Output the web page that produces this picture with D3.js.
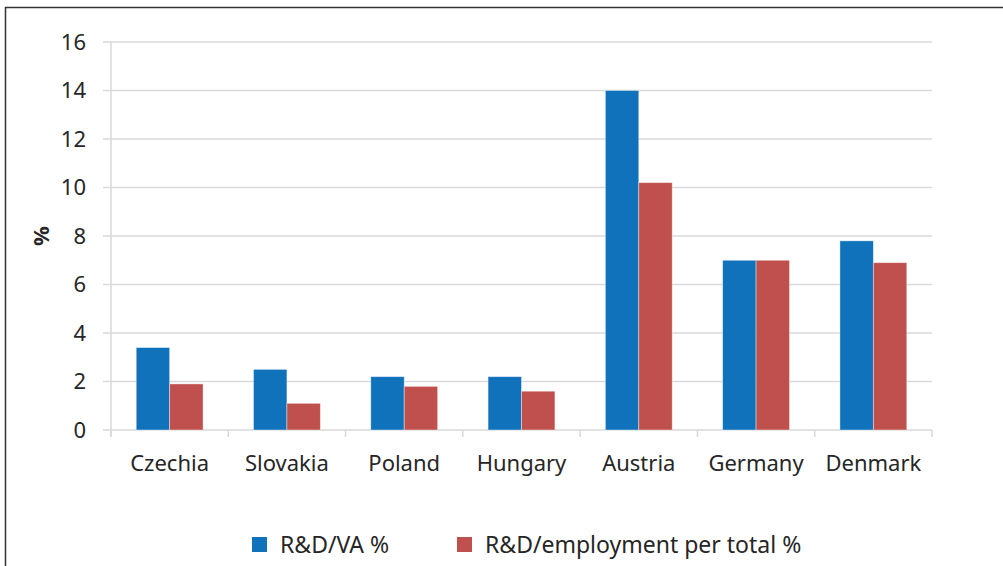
<!DOCTYPE html>
<html><head><meta charset="utf-8">
<script src="https://cdn.jsdelivr.net/npm/d3@7"></script>
<style>
body{margin:0;background:#fff;}
text{font-family:"Noto Sans","Open Sans",sans-serif;fill:#262626;}
</style></head>
<body><svg id="c" width="1003" height="566"></svg>
<script>
const categories = ["Czechia","Slovakia","Poland","Hungary","Austria","Germany","Denmark"];
const seriesNames = ["R&D/VA %","R&D/employment per total %"];
const rdVA = [3.4, 2.5, 2.2, 2.2, 14.0, 7.0, 7.8];
const rdEmp = [1.9, 1.1, 1.8, 1.6, 10.2, 7.0, 6.9];
const yTicks = [0,2,4,6,8,10,12,14,16];
const colors = ["#1172bc","#c0504d"];

const svg = d3.select("#c");
svg.append("rect").attr("x",5.5).attr("y",7.5).attr("width",1100).attr("height",700)
  .attr("fill","#fff").attr("stroke","#333").attr("stroke-width",1.5);

const L=111, R=932, T=42, B=430;
const x = d3.scaleBand().domain(categories).range([L,R]).paddingInner(0.43).paddingOuter(0.215);
const x1 = d3.scaleBand().domain([0,1]).range([0,x.bandwidth()]);
const y = d3.scaleLinear().domain([0,16]).range([B,T]);

svg.append("g").selectAll("line").data(yTicks).join("line")
  .attr("x1",L-8).attr("x2",R).attr("y1",d=>y(d)).attr("y2",d=>y(d))
  .attr("stroke","#d9d9d9").attr("stroke-width",1.5);
svg.append("line").attr("x1",L).attr("x2",L).attr("y1",T).attr("y2",B+7)
  .attr("stroke","#d9d9d9").attr("stroke-width",1.5);
const step = (R-L)/categories.length;
svg.append("g").selectAll("line").data(d3.range(categories.length+1)).join("line")
  .attr("x1",d=>L+d*step).attr("x2",d=>L+d*step).attr("y1",B).attr("y2",B+7)
  .attr("stroke","#d9d9d9").attr("stroke-width",1.5);

svg.append("g").selectAll("text").data(yTicks).join("text")
  .attr("x",86).attr("y",d=>y(d)).attr("dy","0.36em").attr("text-anchor","end")
  .attr("font-size",22).text(d=>d);
svg.append("text").attr("transform","translate(49,236) rotate(-90)").attr("text-anchor","middle")
  .attr("font-size",22).attr("font-weight","bold").text("%");

const data = categories.map((c,i)=>({c, v:[rdVA[i], rdEmp[i]]}));
const g = svg.append("g").selectAll("g").data(data).join("g")
  .attr("transform",d=>`translate(${x(d.c)},0)`);
g.selectAll("rect").data(d=>d.v.map((v,k)=>({v,k}))).join("rect")
  .attr("x",d=>x1(d.k)).attr("width",x1.bandwidth())
  .attr("y",d=>y(d.v)).attr("height",d=>B-y(d.v))
  .attr("fill",d=>colors[d.k]).attr("stroke","#ffffff").attr("stroke-opacity",0.5).attr("stroke-width",0.8);

svg.append("g").selectAll("text").data(categories).join("text")
  .attr("x",d=>x(d)+x.bandwidth()/2).attr("y",471).attr("text-anchor","middle")
  .attr("font-size",22).text(d=>d);

const legX = [252, 457];
const lg = svg.append("g").selectAll("g").data(seriesNames).join("g")
  .attr("transform",(d,i)=>`translate(${legX[i]},537)`);
lg.append("rect").attr("width",15).attr("height",15).attr("fill",(d,i)=>colors[i]);
lg.append("text").attr("x",28).attr("y",8).attr("dy","0.36em").attr("font-size",23).text(d=>d);
</script></body></html>
